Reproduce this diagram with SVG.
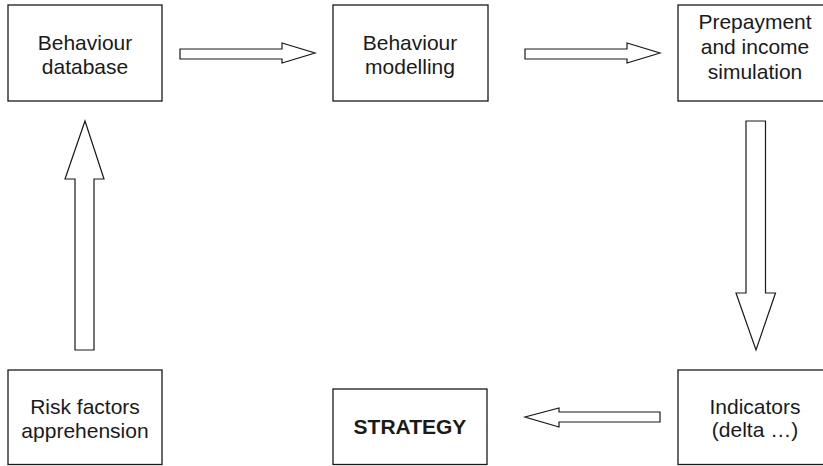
<svg xmlns="http://www.w3.org/2000/svg" width="823" height="466" viewBox="0 0 823 466">
<style>
.box{fill:#fff;stroke:#1a1a1a;stroke-width:1.3}
.arr{fill:#fff;stroke:#1a1a1a;stroke-width:1.2;stroke-linejoin:miter}
text{font-family:"Liberation Sans",Arial,sans-serif;font-size:21px;fill:#1a1a1a;text-anchor:middle}
.b{font-weight:bold}
</style>
<rect width="823" height="466" fill="#fff"/>
<g id="connectors">
<polygon class="arr" points="180,49 282,49 282,43 315,53 282,63 282,59 180,59"/>
<polygon class="arr" points="525,49 627,49 627,43 660,53 627,63 627,59 525,59"/>
<polygon class="arr" points="746,121 765.5,121 765.5,293 775.5,293 756,350 736,293 746,293"/>
<polygon class="arr" points="660,412 559,412 559,408 525,417 559,427 559,422 660,422"/>
<polygon class="arr" points="75,350 94,350 94,179 104,179 85,121 65,179 75,179"/>
</g>
<g id="behaviour-database">
<rect class="box" x="8" y="5" width="154" height="96"/>
<text x="85" y="50">Behaviour</text>
<text x="85" y="74">database</text>
</g>
<g id="behaviour-modelling">
<rect class="box" x="333" y="5" width="155" height="96"/>
<text x="410" y="50">Behaviour</text>
<text x="410" y="74">modelling</text>
</g>
<g id="prepayment">
<rect class="box" x="678" y="5" width="160" height="96"/>
<text x="755" y="29">Prepayment</text>
<text x="755" y="54">and income</text>
<text x="755" y="79">simulation</text>
</g>
<g id="indicators">
<rect class="box" x="678" y="370" width="160" height="94.5"/>
<text x="755" y="414">Indicators</text>
<text x="755" y="437">(delta …)</text>
</g>
<g id="strategy">
<rect class="box" x="333" y="389" width="154" height="75.5"/>
<text class="b" x="410" y="434">STRATEGY</text>
</g>
<g id="risk-factors">
<rect class="box" x="8" y="370" width="154" height="94.5"/>
<text x="85" y="414">Risk factors</text>
<text x="85" y="438">apprehension</text>
</g>
</svg>
